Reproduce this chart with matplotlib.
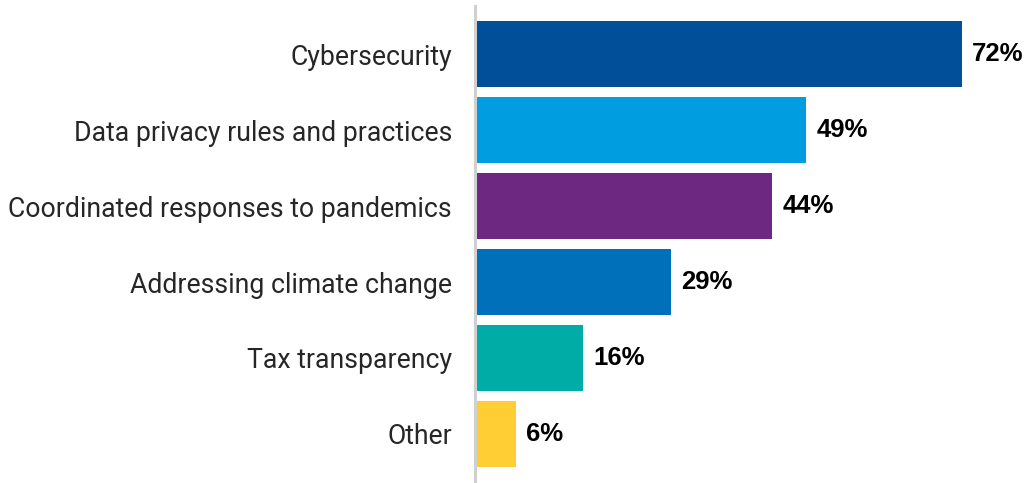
import matplotlib.pyplot as plt

# Data
categories = ['Cybersecurity', 'Data privacy rules and practices',
              'Coordinated responses to pandemics', 'Addressing climate change',
              'Tax transparency', 'Other']
values = [72, 49, 44, 29, 16, 6]
colors = ['#004f98', '#009ee0', '#6d2881', '#0070ba', '#00ada6', '#ffcd34']

plt.rcParams['font.family'] = ['Roboto', 'DejaVu Sans']

fig = plt.figure(figsize=(10.31, 4.83), dpi=100)
ax = fig.add_axes([475 / 1031, 0, 1 - 475 / 1031, 477 / 483])

y = list(range(len(categories)))
ax.barh(y, values, height=0.87, color=colors)

for yi, v in zip(y, values):
    ax.annotate(f'{v}%', (v, yi), xytext=(7.5, 0), textcoords='offset points',
                va='center', ha='left', fontsize=18.5, fontweight='bold',
                color='black', family=['Liberation Sans', 'DejaVu Sans'])

ax.set_xlim(0, (1031 - 475) / 6.76)
ax.set_ylim(5.645, -0.632)
ax.set_yticks(y)
ax.set_yticklabels(categories, fontsize=19.2, color='#262626')
ax.tick_params(axis='y', length=0, pad=16.5)
ax.set_xticks([])

for s in ['top', 'right', 'bottom']:
    ax.spines[s].set_visible(False)
ax.spines['left'].set_color('#d0d0d0')
ax.spines['left'].set_linewidth(2.2)

fig.savefig('out.png', dpi=100)
